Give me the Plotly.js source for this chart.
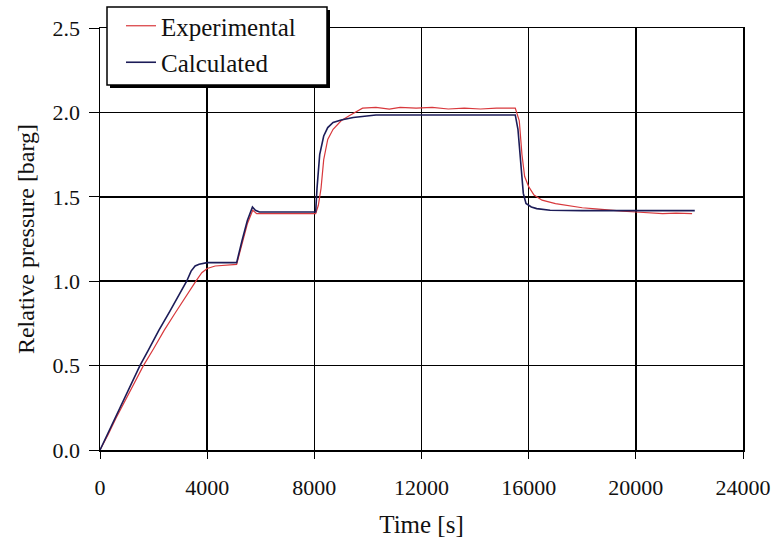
<!DOCTYPE html>
<html>
<head>
<meta charset="utf-8">
<script src="https://cdn.plot.ly/plotly-3.0.1.min.js"></script>
<style>html,body{margin:0;padding:0;background:#fff;}#chart{width:778px;height:548px;}</style>
</head>
<body>
<div id="chart"></div>
<script>
// Experimental series
var expTime = [0,300,600,900,1200,1620,2000,2400,2800,3200,3580,3800,4000,4300,4700,5100,5300,5500,5700,5850,6500,7500,8050,8150,8250,8350,8500,8700,9000,9300,9600,9800,10300,10800,11200,11800,12400,13000,13600,14200,14800,15500,15650,15750,15850,16000,16200,16500,17000,17400,18000,18500,19000,19500,20000,20500,21000,21500,22100];
var expPressure = [0,0.09,0.19,0.28,0.37,0.50,0.60,0.71,0.81,0.91,1.00,1.05,1.075,1.09,1.095,1.10,1.22,1.34,1.42,1.40,1.40,1.40,1.40,1.45,1.55,1.72,1.84,1.90,1.95,1.98,2.005,2.025,2.03,2.02,2.03,2.025,2.03,2.02,2.025,2.02,2.025,2.025,1.95,1.75,1.62,1.56,1.51,1.48,1.46,1.45,1.435,1.428,1.42,1.415,1.41,1.405,1.40,1.403,1.40];
// Calculated series
var calcTime = [0,300,600,900,1200,1490,1800,2200,2600,3000,3235,3400,3550,3700,4000,4500,5100,5300,5500,5690,5800,5950,6500,7500,8050,8100,8200,8350,8500,8700,9000,9450,10300,12000,15500,15600,15700,15800,15900,16100,16300,16800,18000,20000,22200];
var calcPressure = [0,0.10,0.20,0.30,0.41,0.50,0.59,0.71,0.82,0.93,1.00,1.06,1.09,1.10,1.11,1.11,1.11,1.24,1.36,1.44,1.42,1.41,1.41,1.41,1.41,1.55,1.75,1.86,1.91,1.94,1.955,1.97,1.985,1.985,1.985,1.90,1.70,1.52,1.46,1.44,1.43,1.42,1.418,1.418,1.418];
var seriesNames = ["Experimental", "Calculated"];
var xTicks = [0,4000,8000,12000,16000,20000,24000];
var yTicks = [0,0.5,1.0,1.5,2.0,2.5];

var font = "Liberation Serif, Times New Roman, serif";
var traces = [
  {x: expTime, y: expPressure, name: seriesNames[0], type: "scatter", mode: "lines",
   line: {color: "#d8383c", width: 1.2}, legendgroup: "a"},
  {x: calcTime, y: calcPressure, name: seriesNames[1], type: "scatter", mode: "lines",
   line: {color: "#1c1c58", width: 1.6}, legendgroup: "b"}
];
// legend frame (box with drop shadow) in pixel-derived paper coords
var W = 643, H = 422;
function px(x){ return (x - 100) / W; }
function py(y){ return (450 - y) / H; }
var layout = {
  width: 778, height: 548,
  margin: {l: 100, r: 35, t: 28, b: 98, autoexpand: false},
  paper_bgcolor: "#fff", plot_bgcolor: "#fff",
  font: {family: font, size: 22, color: "#111"},
  showlegend: true,
  legend: {x: px(121), y: py(3), xanchor: "left", yanchor: "top",
    bgcolor: "rgba(0,0,0,0)", borderwidth: 0,
    font: {family: font, size: 25, color: "#111"},
    traceorder: "grouped", tracegroupgap: 1},
  shapes: [
    {type: "rect", xref: "paper", yref: "paper", layer: "above",
     x0: px(110), x1: px(330), y0: py(88), y1: py(10),
     fillcolor: "#000", line: {width: 0}},
    {type: "rect", xref: "paper", yref: "paper", layer: "above",
     x0: px(107), x1: px(327), y0: py(85), y1: py(7),
     fillcolor: "#fff", line: {color: "#000", width: 1.5}}
  ],
  xaxis: {range: [0, 24000], tickvals: xTicks, ticktext: xTicks.map(String),
    showgrid: true, gridcolor: "#000", gridwidth: 1.5,
    showline: true, linecolor: "#000", linewidth: 1.5, mirror: true,
    ticks: "outside", ticklen: 7, tickcolor: "#000", zeroline: false,
    ticklabelstandoff: 10,
    title: {text: "Time [s]", font: {family: font, size: 25, color: "#111"}, standoff: 16}},
  yaxis: {range: [0, 2.5], tickvals: yTicks, ticktext: yTicks.map(function(v){return v.toFixed(1);}),
    showgrid: true, gridcolor: "#000", gridwidth: 1.5,
    showline: true, linecolor: "#000", linewidth: 1.5, mirror: true,
    ticks: "outside", ticklen: 10, tickcolor: "#000", zeroline: false,
    ticklabelstandoff: 4,
    title: {text: "Relative pressure [barg]", font: {family: font, size: 24, color: "#111"}, standoff: 11}}
};
Plotly.newPlot("chart", traces, layout, {displayModeBar: false, staticPlot: true});
</script>
</body>
</html>
